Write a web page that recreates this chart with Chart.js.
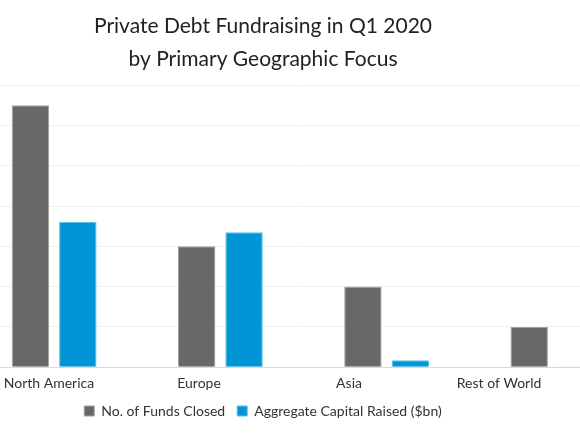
<!DOCTYPE html>
<html>
<head>
  <title>Private Debt Fundraising in Q1 2020</title>
  <script src="https://cdn.jsdelivr.net/npm/chart.js"></script>
  <style>
    body { margin: 0; background: #fff; overflow: hidden; }
    #wrap { position: absolute; left: -120px; top: 0; width: 766px; height: 435px; }
  </style>
</head>
<body>
  <div id="wrap"><canvas id="chart"></canvas></div>

  <script>
    // values
    var regions = ['North America', 'Europe', 'Asia', 'Rest of World'];
    var fundsClosed = [65, 30, 20, 10];
    var capitalRaised = [36, 33.5, 1.7, 0.2];
    var yTicks = [0, 10, 20, 30, 40, 50, 60, 70];

    var font = 'Lato, "Open Sans", sans-serif';

    new Chart(document.getElementById('chart'), {
      type: 'bar',
      data: {
        labels: regions,
        datasets: [{
          label: 'No. of Funds Closed',
          data: fundsClosed,
          backgroundColor: '#696767',
          borderColor: '#a3a2a2',
          borderWidth: 1,
          xAxisID: 'x'
        }, {
          label: 'Aggregate Capital Raised ($bn)',
          data: capitalRaised,
          backgroundColor: '#0096d6',
          borderColor: '#5cbfe8',
          borderWidth: 1,
          xAxisID: 'x'
        }]
      },
      options: {
        responsive: true,
        maintainAspectRatio: false,
        animation: false,
        layout: { padding: { left: 10, right: 10, top: 10, bottom: 7 } },
        categoryPercentage: 0.57,
        barPercentage: 0.79,
        plugins: {
          title: {
            display: true,
            text: ['Private Debt Fundraising in Q1 2020', 'by Primary Geographic Focus'],
            color: '#222',
            font: { family: font, size: 21, weight: 'normal', lineHeight: 1.55 },
            padding: { top: 0, bottom: 10 }
          },
          legend: {
            position: 'bottom',
            labels: {
              color: '#333',
              font: { family: font, size: 14 },
              boxWidth: 10,
              boxHeight: 10,
              padding: 12
            }
          },
          tooltip: { enabled: false }
        },
        scales: {
          x: {
            position: 'bottom',
            grid: { display: false },
            border: { display: true, color: '#d9d9d9' },
            ticks: { display: false }
          },
          // label row sits on a slightly narrower spacing than the bars
          labels: {
            type: 'linear',
            position: 'bottom',
            offset: false,
            bounds: 'data',
            min: -0.52,
            max: 3.913,
            grid: { display: false, drawTicks: false },
            border: { display: false },
            afterBuildTicks: function(scale) {
              scale.ticks = regions.map(function(r, i) { return { value: i }; });
            },
            ticks: {
              color: '#333',
              font: { family: font, size: 14 },
              padding: 0,
              maxRotation: 0,
              autoSkip: false,
              callback: function(v) { return regions[v]; }
            }
          },
          y: {
            min: yTicks[0],
            max: yTicks[yTicks.length - 1],
            afterBuildTicks: function(scale) {
              scale.ticks = yTicks.map(function(v) { return { value: v }; });
            },
            // tick labels are cut off in the picture, keep their room
            afterFit: function(scale) { scale.width = 81; },
            grid: { color: '#f0f0f0', drawTicks: false },
            border: { display: false },
            ticks: { display: false }
          }
        }
      }
    });
  </script>
</body>
</html>
